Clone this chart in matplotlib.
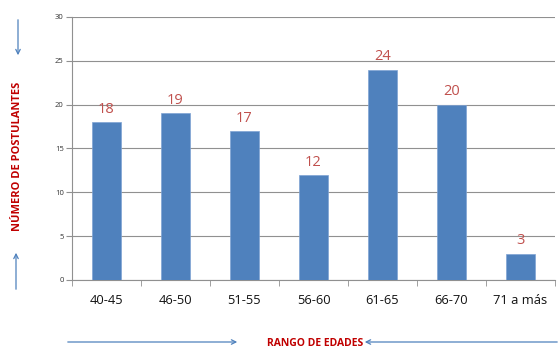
import matplotlib
matplotlib.use("Agg")
import matplotlib.pyplot as plt
import numpy as np

categories = ["40-45", "46-50", "51-55", "56-60", "61-65", "66-70", "71 a más"]
values = [18, 19, 17, 12, 24, 20, 3]
yticks = [0, 5, 10, 15, 20, 25, 30]

plt.rcParams['font.family'] = ['Open Sans', 'DejaVu Sans']

fig = plt.figure(figsize=(5.6, 3.49), dpi=100)
ax = fig.add_axes([72/560, 1-280/349, 483/560, 263/349])

x = np.arange(len(categories))
bars = ax.bar(x, values, width=0.41, color="#4F81BD", edgecolor="#7FA3D3", linewidth=0.5, zorder=3)
for xi, v in zip(x, values):
    ax.text(xi, v + 0.6, str(v), ha="center", va="bottom", color="#C0504D", fontsize=10.5)

ax.set_xlim(-0.5, len(categories) - 0.5)
ax.set_ylim(0, 30)
ax.set_yticks(yticks)
ax.set_yticklabels([str(t) for t in yticks], fontsize=5.5, color="#333333")
ax.yaxis.grid(True, color="#909090", linewidth=0.8, zorder=0)
ax.set_xticks(x)
ax.set_xticklabels(categories, fontsize=9.3, color="#111111")
ax.set_xticks(np.arange(len(categories) + 1) - 0.5, minor=True)
ax.tick_params(axis="x", which="major", length=0, pad=10)
ax.tick_params(axis="x", which="minor", length=4, color="#909090")
ax.tick_params(axis="y", length=4, color="#909090", pad=2)
for s in ["top", "right"]:
    ax.spines[s].set_visible(False)
ax.spines["left"].set_color("#909090")
ax.spines["bottom"].set_color("#909090")

arrow_kw = dict(arrowstyle="->", color="#4F81BD", lw=0.9, mutation_scale=8)
def fig_arrow(x0, y0, x1, y1):
    ax.annotate("", xy=(x1/560, 1-y1/349), xytext=(x0/560, 1-y0/349),
                xycoords="figure fraction", textcoords="figure fraction",
                arrowprops=arrow_kw, annotation_clip=False)

fig_arrow(18, 17, 18, 58)
fig_arrow(16, 292, 16, 250)
fig_arrow(65, 342, 240, 342)
fig_arrow(560, 342, 362, 342)

fig.text(18/560, 1-156/349, "NÚMERO DE POSTULANTES", rotation=90, ha="center", va="center",
         color="#C00000", fontsize=8, fontweight="bold")
fig.text(315/560, 1-343.5/349, "RANGO DE EDADES", ha="center", va="center",
         color="#C00000", fontsize=7.5, fontweight="bold")

fig.savefig("out.png", dpi=100)
